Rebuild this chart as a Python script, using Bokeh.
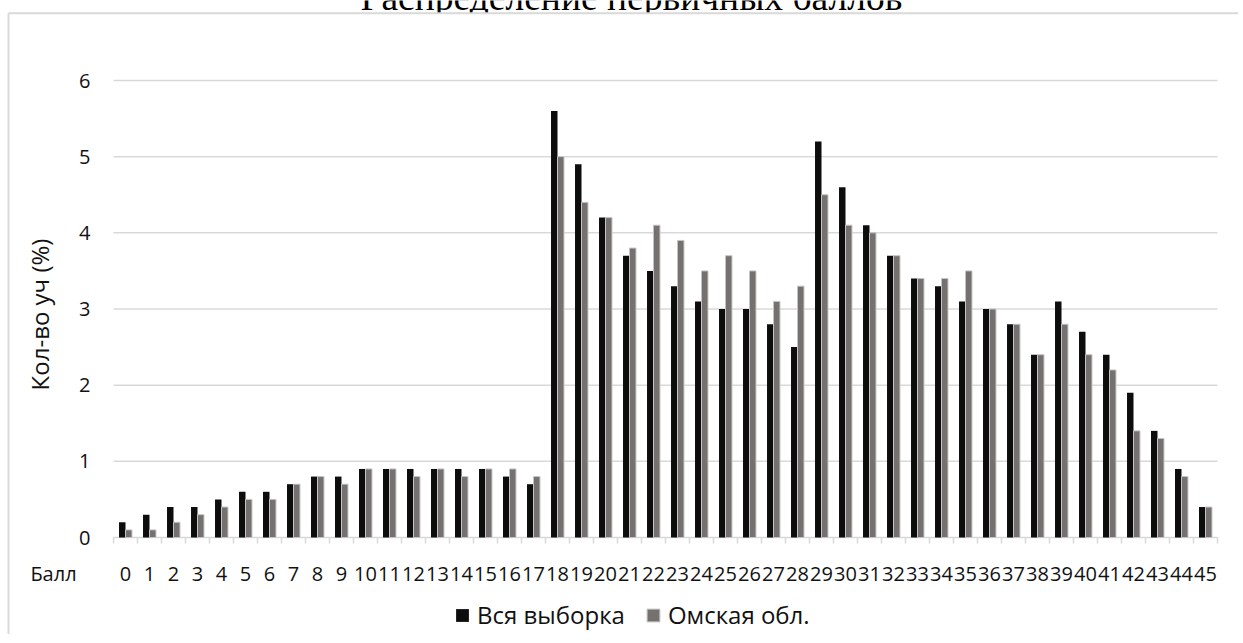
from bokeh.plotting import figure
from bokeh.models import (ColumnDataSource, FixedTicker, Legend, LegendItem, Range1d)
from bokeh.transform import dodge
from bokeh.core.properties import value
from bokeh.embed import file_html
from bokeh.resources import INLINE

# ---------------- data ----------------
scores = [str(i) for i in range(46)]
all_sample = [0.2, 0.3, 0.4, 0.4, 0.5, 0.6, 0.6, 0.7, 0.8, 0.8,
              0.9, 0.9, 0.9, 0.9, 0.9, 0.9, 0.8, 0.7, 5.6, 4.9,
              4.2, 3.7, 3.5, 3.3, 3.1, 3.0, 3.0, 2.8, 2.5, 5.2,
              4.6, 4.1, 3.7, 3.4, 3.3, 3.1, 3.0, 2.8, 2.4, 3.1,
              2.7, 2.4, 1.9, 1.4, 0.9, 0.4]
omsk = [0.1, 0.1, 0.2, 0.3, 0.4, 0.5, 0.5, 0.7, 0.8, 0.7,
        0.9, 0.9, 0.8, 0.9, 0.8, 0.9, 0.9, 0.8, 5.0, 4.4,
        4.2, 3.8, 4.1, 3.9, 3.5, 3.7, 3.5, 3.1, 3.3, 4.5,
        4.1, 4.0, 3.7, 3.4, 3.4, 3.5, 3.0, 2.8, 2.4, 2.8,
        2.4, 2.2, 1.4, 1.3, 0.8, 0.4]
series_names = ["Вся выборка", "Омская обл."]
y_ticks = [0, 1, 2, 3, 4, 5, 6]
title_text = "Распределение первичных баллов"
y_title = "Кол-во уч (%)"
x_title = "Балл"

# ---------------- layout (pixels of the page) ----------------
FONT = "Open Sans"
TXT = "#111111"
GRID = "#d9d9d9"
W, H = 1238, 634
N = len(scores)
CAT_PX = 24.0                  # width of one category
PLOT_LEFT = 113                # left edge of the category band
Y0_PX, Y6_PX = 537, 80         # pixel rows of 0 and 6
UNIT_PX = (Y0_PX - Y6_PX) / 6.0
BOX_LEFT, BOX_TOP = 8, 12.7


def xd(px):
    return -0.5 + (px - PLOT_LEFT) / CAT_PX


def yd(py):
    return (Y0_PX - py) / UNIT_PX


p = figure(width=W, height=H, output_backend="svg", toolbar_location=None,
           x_range=Range1d(xd(0), xd(W)), y_range=Range1d(yd(H), yd(0)),
           min_border=0)
p.outline_line_color = None
p.background_fill_color = None
p.border_fill_color = "white"
p.xgrid.visible = False
p.ygrid.visible = False

# title above the chart box (its lower part is hidden by the box, as in the reference)
p.text(x=[xd(631)], y=[yd(-3)], text=[title_text], text_align="center",
       text_baseline="alphabetic", text_font=value("Liberation Serif"),
       text_font_size="37.5px", text_color="#000000")

# chart box: white area, then its top and left border lines
p.quad(left=[xd(BOX_LEFT)], right=[xd(W + 60)], top=[yd(BOX_TOP)], bottom=[yd(H + 60)],
       fill_color="white", line_color=None)
p.segment(x0=[xd(BOX_LEFT), xd(BOX_LEFT)], x1=[xd(W + 60), xd(BOX_LEFT)],
          y0=[yd(BOX_TOP), yd(BOX_TOP)], y1=[yd(BOX_TOP), yd(H + 60)],
          line_color=GRID, line_width=2)

# horizontal grid lines across the category band
p.segment(x0=[-0.5] * len(y_ticks), x1=[N - 0.5] * len(y_ticks), y0=y_ticks, y1=y_ticks,
          line_color=GRID, line_width=1.5)

src = ColumnDataSource(dict(x=list(range(N)), a=all_sample, b=omsk))
bw = 0.27
r1 = p.vbar(x=dodge("x", -bw / 2, range=p.x_range), top="a", width=bw, source=src,
            fill_color="#0d0d0d", line_color=None)
r2 = p.vbar(x=dodge("x", bw / 2, range=p.x_range), top="b", width=bw, source=src,
            fill_color="#767171", line_color="#c4c4c4", line_width=1)

# x axis at y = 0 with score labels and the "Балл" caption on the left
xa = p.xaxis[0]
xa.fixed_location = 0
balls_x = xd(53)
xa.ticker = FixedTicker(ticks=[balls_x] + list(range(N)),
                        minor_ticks=[i - 0.5 for i in range(N + 1)])
overrides = {i: s for i, s in enumerate(scores)}
overrides[balls_x] = x_title
xa.major_label_overrides = overrides
xa.axis_line_color = None
xa.major_tick_line_color = None
xa.major_tick_out = 0
xa.major_tick_in = 0
xa.minor_tick_out = 6
xa.minor_tick_in = 0
xa.minor_tick_line_color = GRID
xa.minor_tick_line_width = 1.5
xa.major_label_standoff = 16
xa.major_label_text_font = FONT
xa.major_label_text_font_size = "20px"
xa.major_label_text_color = TXT

# y axis at the left edge of the category band
ya = p.yaxis[0]
ya.fixed_location = -0.5
ya.bounds = (yd(314) * 2 - 6, 6)
ya.ticker = FixedTicker(ticks=y_ticks)
ya.axis_line_color = None
ya.major_tick_line_color = None
ya.minor_tick_line_color = None
ya.major_tick_out = 0
ya.major_label_standoff = 23
ya.major_label_text_font = FONT
ya.major_label_text_font_size = "20px"
ya.major_label_text_color = TXT
ya.axis_label = y_title
ya.axis_label_standoff = 20
ya.axis_label_text_font = FONT
ya.axis_label_text_font_size = "24px"
ya.axis_label_text_font_style = "normal"
ya.axis_label_text_color = TXT

legend = Legend(items=[LegendItem(label=series_names[0], renderers=[r1]),
                       LegendItem(label=series_names[1], renderers=[r2])],
                orientation="horizontal", location=(454, H - 631),
                glyph_width=16, glyph_height=16, label_standoff=7, spacing=20,
                padding=0, margin=0, border_line_color=None, background_fill_alpha=0,
                label_text_font=FONT, label_text_font_size="24px", label_text_color=TXT)
p.add_layout(legend)

open("out.html", "w").write(file_html(p, INLINE))
